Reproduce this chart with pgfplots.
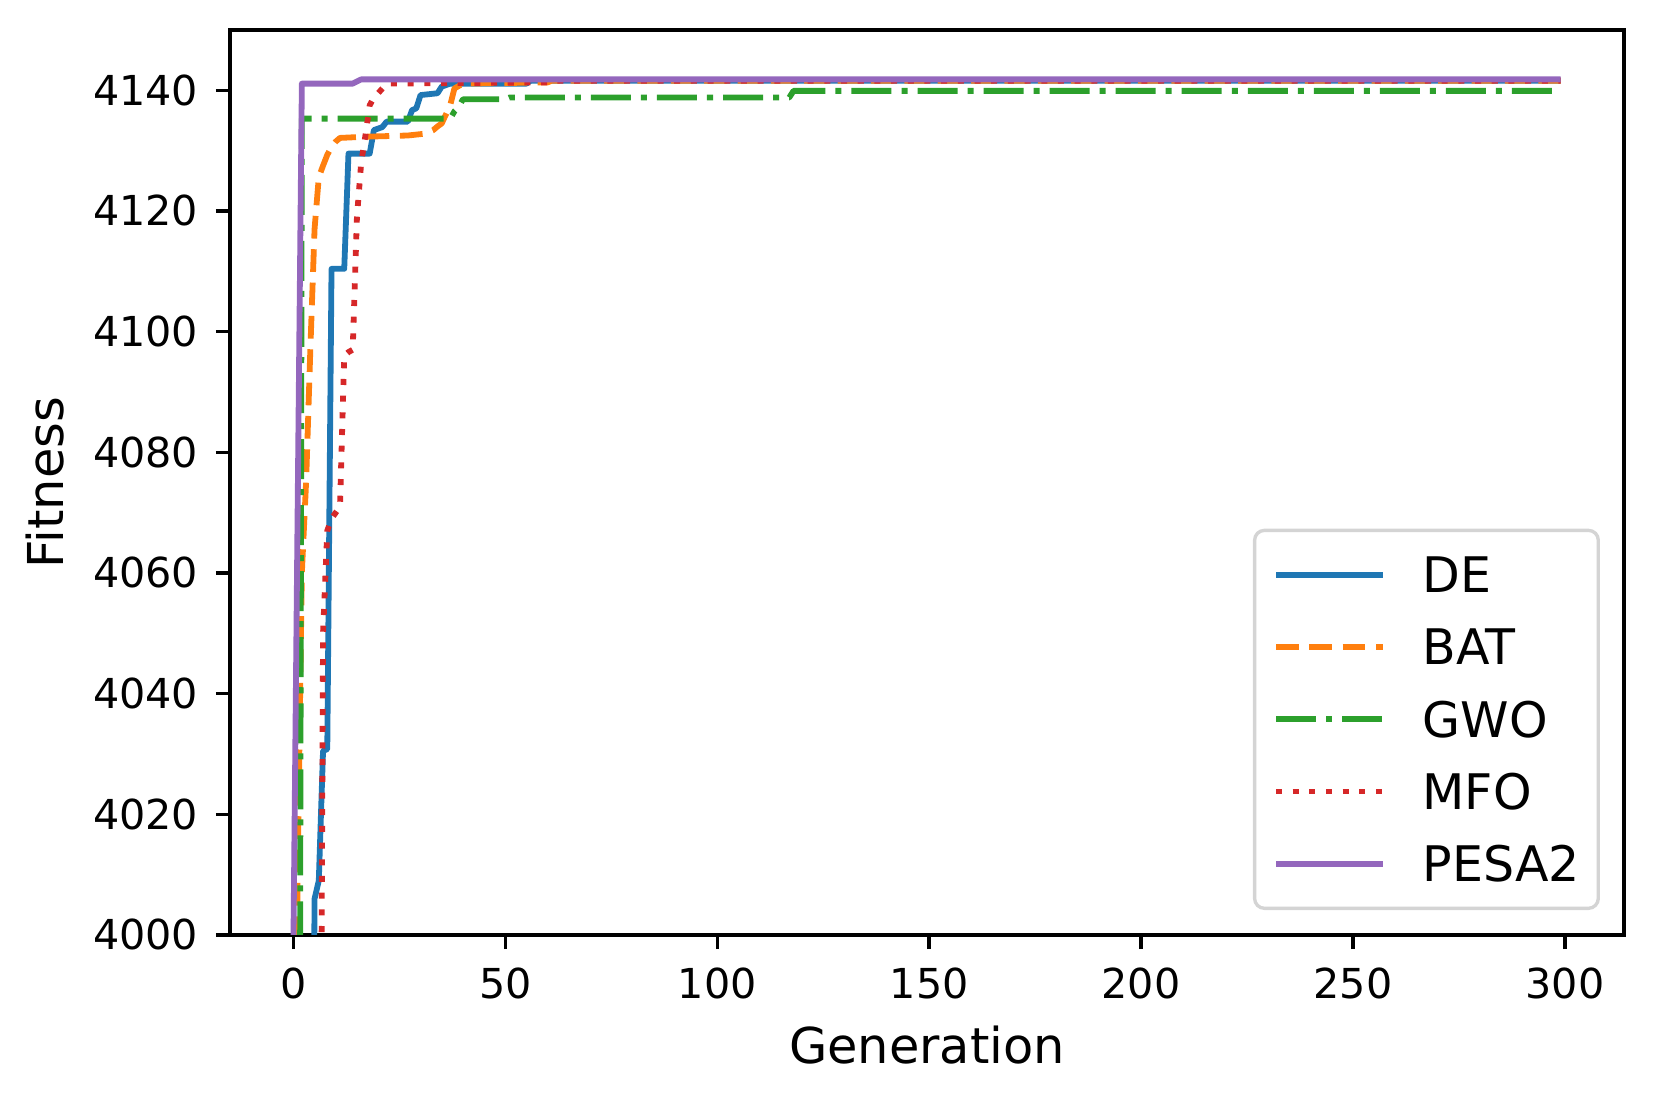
\documentclass[border=0pt]{standalone}
\usepackage{fontspec}
\setmainfont{DejaVu Sans}
\usepackage{pgfplots}
\pgfplotsset{compat=1.18}

\definecolor{c0}{HTML}{1F77B4}
\definecolor{c1}{HTML}{FF7F0E}
\definecolor{c2}{HTML}{2CA02C}
\definecolor{c3}{HTML}{D62728}
\definecolor{c4}{HTML}{9467BD}

\begin{document}
\begin{tikzpicture}
\path[use as bounding box] (-53.49pt,-38.60pt) rectangle (331.16pt,217.44pt);
\begin{axis}[
    at={(0,0)}, anchor=south west,
    scale only axis,
    width=324.19pt, height=210.47pt,
    xmin=-14.95, xmax=313.95,
    ymin=4000, ymax=4150,
    xtick={0,50,...,300},
    ytick={4000,4020,...,4140},
    scaled ticks=false,
    /pgf/number format/1000 sep={},
    /pgf/number format/assume math mode=true,
    tick align=outside,
    tick pos=left,
    major tick length=3.3pt,
    every tick/.style={black, line width=0.78pt},
    axis line style={line width=0.78pt},
    ticklabel style={font=\fontsize{9.6}{11.5}\selectfont},
    xticklabel style={inner sep=0pt, anchor=north, yshift=-4.1pt},
    yticklabel style={inner sep=0pt, anchor=east, xshift=-3.9pt},
    xlabel={Generation},
    ylabel={Fitness},
    label style={font=\fontsize{11.5}{14}\selectfont},
    xlabel style={at={(axis description cs:0.5,-0.14159)}, anchor=base, inner sep=0pt},
    ylabel style={at={(axis description cs:-0.11968,0.5)}, anchor=base, inner sep=0pt},
    legend cell align=left,
    legend image code/.code={\draw[#1] (0pt,0pt) -- (24.8pt,0pt);},
    legend style={
        at={(1,0)}, anchor=south east, xshift=-5.6pt, yshift=5.8pt,
        draw=black!17, line width=0.78pt, rounded corners=2.3pt,
        fill=white, fill opacity=0.8, text opacity=1,
        inner xsep=4.3pt, inner ysep=6.2pt,
        row sep=8.5pt, column sep=8.6pt,
        nodes={inner sep=0pt, text height=8.3pt, text depth=0pt,
               font=\fontsize{11.4}{14}\selectfont},
    },
    every axis plot/.append style={line width=1.35pt, line join=round},
]
% DE
\addplot[c0] coordinates {
    (0,3600) (4,3900) (5,4006) (6,4009) (7,4030.5) (8,4030.8) (9,4110.4)
    (12,4110.4) (13,4129.5) (18,4129.5) (19,4133.4) (21,4133.9) (22,4134.8)
    (27,4134.8) (28,4136.7) (29,4137) (30,4139.2) (34,4139.5) (35,4140.6)
    (37,4141.1) (55,4141.1) (56,4141.6) (299,4141.6)
};
\addlegendentry{DE}
% BAT
\addplot[c1, dash pattern=on 5.28pt off 2.48pt] coordinates {
    (0,3850) (1,4010) (2,4060) (3,4075) (4,4097) (5,4117) (6,4125.6)
    (7,4127.5) (8,4129.3) (9,4130.6) (10,4131.5) (11,4132.1) (17,4132.3)
    (27,4132.5) (31,4132.8) (33,4133.4) (34,4134) (35,4134.5) (36,4136)
    (37,4137.5) (38,4140.3) (40,4141.1) (60,4141.3) (61,4141.6) (299,4141.6)
};
\addlegendentry{BAT}
% GWO
\addplot[c2, dash pattern=on 9.3pt off 2.33pt on 1.4pt off 2.33pt] coordinates {
    (0,3780) (1,3800) (2,4135.3) (37,4135.3) (38,4136.5) (39,4137.2)
    (40,4138.5) (50,4138.5) (51,4138.8) (117,4138.8) (118,4139.9) (299,4139.9)
};
\addlegendentry{GWO}
% MFO
\addplot[c3, dash pattern=on 1.4pt off 2.48pt] coordinates {
    (0,3500) (6,3900) (7,4050) (8,4067) (9,4069) (10,4070) (11,4071)
    (12,4096) (13,4096.6) (14,4097) (15,4119) (16,4128) (17,4132.5)
    (18,4137.5) (19,4138.8) (20,4139.5) (21,4140.3) (22,4141.1)
    (60,4141.3) (61,4141.6) (299,4141.6)
};
\addlegendentry{MFO}
% PESA2
\addplot[c4] coordinates {
    (0,3998) (1,4070) (2,4141.1) (14,4141.1) (16,4141.8) (299,4141.8)
};
\addlegendentry{PESA2}
\end{axis}
\end{tikzpicture}
\end{document}
